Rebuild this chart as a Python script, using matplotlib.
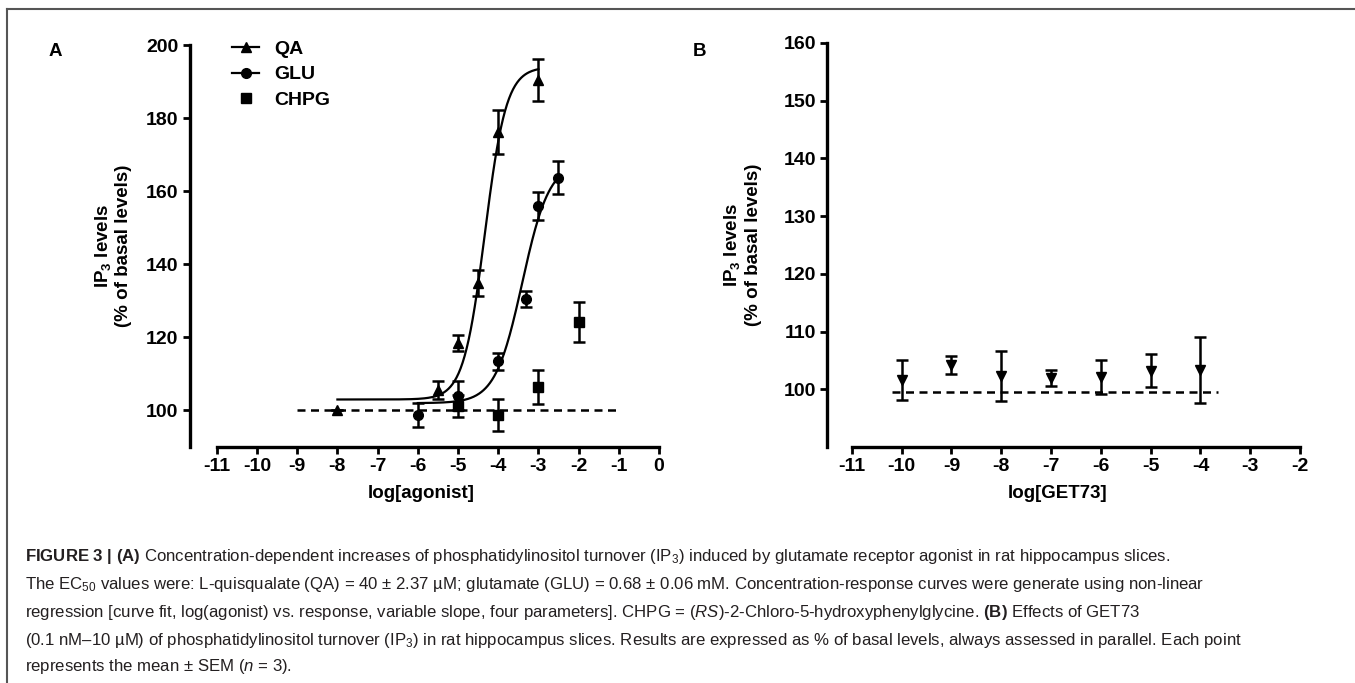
import numpy as np
import matplotlib
matplotlib.use("Agg")
import matplotlib.pyplot as plt
from matplotlib.lines import Line2D

plt.rcParams['font.family'] = ['Liberation Sans', 'DejaVu Sans']
plt.rcParams['mathtext.fontset'] = 'custom'
plt.rcParams['mathtext.rm'] = 'Liberation Sans'
plt.rcParams['mathtext.it'] = 'Liberation Sans:italic'
plt.rcParams['mathtext.bf'] = 'Liberation Sans:bold'
plt.rcParams['axes.unicode_minus'] = False

# panel A data (mean, SEM)
qa_x = [-8, -5.5, -5, -4.5, -4, -3]
qa_y = [100, 105.5, 118.5, 134.8, 176.2, 190.5]
qa_err = [0, 2.5, 2.2, 3.6, 6.0, 5.8]

glu_x = [-6, -5, -4, -3.3, -3, -2.5]
glu_y = [98.8, 104, 113.4, 130.4, 156, 163.7]
glu_err = [3.3, 4.0, 2.4, 2.2, 3.8, 4.5]

chpg_x = [-5, -4, -3, -2]
chpg_y = [101.2, 98.8, 106.5, 124.2]
chpg_err = [3.0, 4.4, 4.7, 5.6]

# four-parameter fits: bottom, top, logEC50, hill, x range
qa_fit = [103, 194, -4.33, 1.63, -8, -3]
glu_fit = [102, 168, -3.40, 1.29, -6, -2.5]

# panel B data
get_x = [-10, -9, -8, -7, -6, -5, -4]
get_y = [101.6, 104.2, 102.3, 102.0, 102.1, 103.2, 103.3]
get_err = [3.5, 1.5, 4.3, 1.4, 2.9, 2.85, 5.7]

ticks_a = list(range(-11, 1))
ticks_b = list(range(-11, -1))


def logistic(p):
    bottom, top, ec, hill, x0, x1 = p
    xs = np.linspace(x0, x1, 200)
    return xs, bottom + (top - bottom) / (1 + 10 ** ((ec - xs) * hill))


def style_axis(ax, xticks, yticks, ylim, xlim):
    for s in ['top', 'right']:
        ax.spines[s].set_visible(False)
    for s in ['left', 'bottom']:
        ax.spines[s].set_linewidth(2.4)
    ax.spines['bottom'].set_bounds(xticks[0], xticks[-1])
    ax.set_xlim(xlim)
    ax.set_ylim(ylim)
    ax.set_xticks(xticks)
    ax.set_yticks(yticks)
    ax.tick_params(width=2, length=5, labelsize=14, pad=3)
    for lab in ax.get_xticklabels() + ax.get_yticklabels():
        lab.set_fontweight('bold')


fig = plt.figure(figsize=(13.55, 6.83), dpi=100)
W, H = 1355, 683

ebkw = dict(color='black', ecolor='black', elinewidth=1.8, capsize=4, capthick=1.8, linestyle='none')

# ---------- panel A ----------
ax = fig.add_axes([189.5 / W, 1 - 447 / H, (671 - 189.5) / W, 402 / H])
ax.plot([-9, -1], [100, 100], ls=(0, (3.2, 2.2)), color='black', lw=1.8)
xs, ys = logistic(qa_fit)
ax.plot(xs, ys, color='black', lw=1.6)
xs, ys = logistic(glu_fit)
ax.plot(xs, ys, color='black', lw=1.6)
ax.errorbar(qa_x, qa_y, yerr=qa_err, marker='^', ms=7, **ebkw)
ax.errorbar(glu_x, glu_y, yerr=glu_err, marker='o', ms=7, **ebkw)
ax.errorbar(chpg_x, chpg_y, yerr=chpg_err, marker='s', ms=6.5, **ebkw)
style_axis(ax, ticks_a, list(range(100, 201, 20)), (90, 200), (-11.68, 0.3))
ax.set_xlabel('log[agonist]', fontsize=13.5, fontweight='bold')
ax.xaxis.set_label_coords(0.481, -0.095)
ax.set_ylabel(r"$\mathbf{IP}_\mathbf{3}$ levels" + "\n(% of basal levels)", fontsize=13.5, fontweight='bold')
ax.yaxis.set_label_coords(-0.16, 0.5)
ax.yaxis.label.set_va('center')

handles = [Line2D([], [], color='black', lw=1.6, marker='^', ms=7),
           Line2D([], [], color='black', lw=1.6, marker='o', ms=7),
           Line2D([], [], color='black', lw=0, marker='s', ms=6.5)]
ax.legend(handles, ['QA', 'GLU', 'CHPG'], loc='upper left', frameon=False,
          bbox_to_anchor=(232 / W, 1 - 40 / H), bbox_transform=fig.transFigure,
          borderpad=0, borderaxespad=0, handlelength=1.4, handletextpad=0.75,
          labelspacing=0.42, prop={'size': 14, 'weight': 'bold'})

# ---------- panel B ----------
bx = fig.add_axes([827 / W, 1 - 447 / H, (1312.5 - 827) / W, 404 / H])
bx.plot([-10.2, -3.65], [99.5, 99.5], ls=(0, (3.2, 2.2)), color='black', lw=1.8)
bx.errorbar(get_x, get_y, yerr=get_err, marker='v', ms=7, **ebkw)
style_axis(bx, ticks_b, list(range(100, 161, 10)), (90, 160), (-11.5, -1.75))
bx.set_xlabel('log[GET73]', fontsize=13.5, fontweight='bold')
bx.xaxis.set_label_coords(0.474, -0.095)
bx.set_ylabel(r"$\mathbf{IP}_\mathbf{3}$ levels" + "\n(% of basal levels)", fontsize=13.5, fontweight='bold')
bx.yaxis.set_label_coords(-0.175, 0.5)
bx.yaxis.label.set_va('center')

fig.text(55 / W, 1 - 52 / H, 'A', fontsize=13.5, fontweight='bold', ha='center', va='center')
fig.text(700 / W, 1 - 52 / H, 'B', fontsize=13.5, fontweight='bold', ha='center', va='center')

# frame around the figure
fig.add_artist(Line2D([7 / W, 1], [1 - 9 / H, 1 - 9 / H], color='#555555', lw=1.5))
fig.add_artist(Line2D([7 / W, 7 / W], [0, 1 - 9 / H], color='#555555', lw=1.5))

# caption
caption = [
    r"$\mathbf{FIGURE\ 3\ |\ (A)}$ Concentration-dependent increases of phosphatidylinositol turnover (IP$_3$) induced by glutamate receptor agonist in rat hippocampus slices.",
    r"The EC$_{50}$ values were: L-quisqualate (QA) = 40 ± 2.37 µM; glutamate (GLU) = 0.68 ± 0.06 mM. Concentration-response curves were generate using non-linear",
    r"regression [curve fit, log(agonist) vs. response, variable slope, four parameters]. CHPG = $\mathit{(RS)}$-2-Chloro-5-hydroxyphenylglycine. $\mathbf{(B)}$ Effects of GET73",
    r"(0.1 nM–10 µM) of phosphatidylinositol turnover (IP$_3$) in rat hippocampus slices. Results are expressed as % of basal levels, always assessed in parallel. Each point",
    r"represents the mean ± SEM ($\mathit{n}$ = 3).",
]
cap_y = [557, 585, 612, 640, 667]
for line, y in zip(caption, cap_y):
    fig.text(25 / W, 1 - y / H, line, fontsize=12.1, color='#231f20', ha='left', va='center')

fig.savefig('out.png', dpi=100)
